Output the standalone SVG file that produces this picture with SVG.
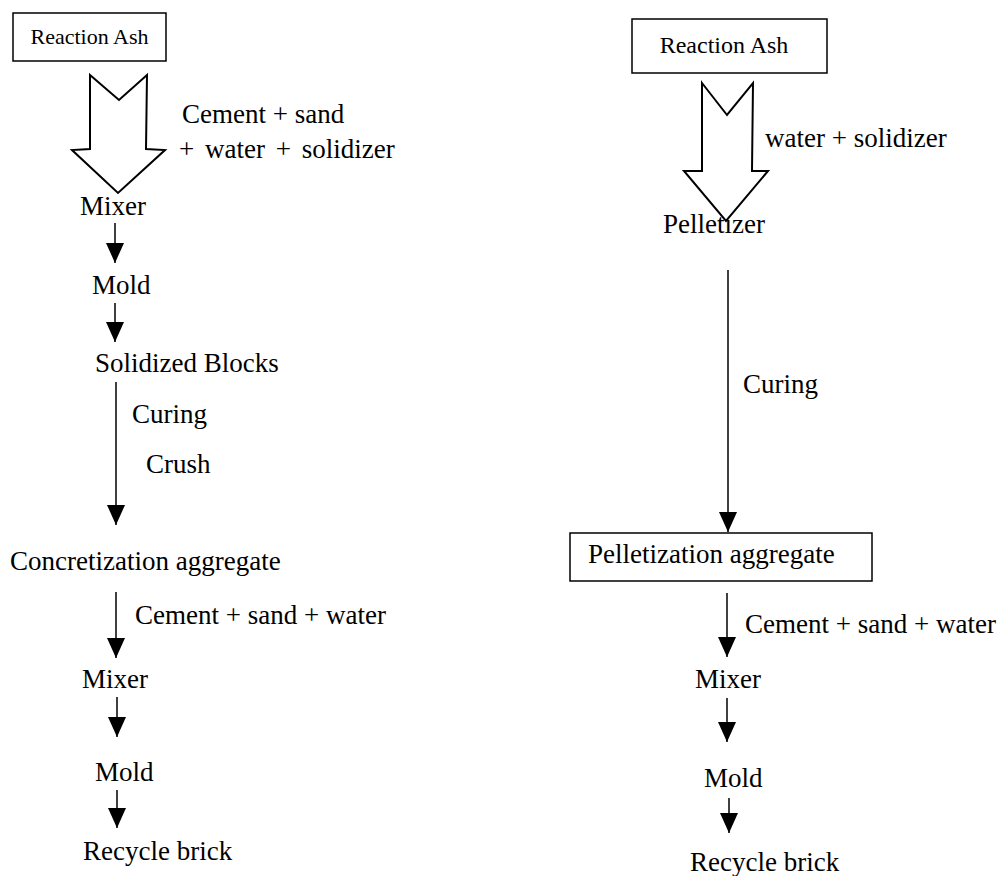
<svg xmlns="http://www.w3.org/2000/svg" width="1000" height="876" viewBox="0 0 1000 876">
<style>
  text { font-family: "Liberation Serif", "Times New Roman", serif; font-size: 27px; fill: #000; }
  .box { fill: #fff; stroke: #000; stroke-width: 1.5; }
  .conn { fill: none; stroke: #000; stroke-width: 1.5; }
  .hollow { fill: #fff; stroke: #000; stroke-width: 2; stroke-linejoin: miter; }
</style>
<defs>
  <marker id="ah" viewBox="0 0 20 18" refX="20" refY="9" markerWidth="20" markerHeight="18" markerUnits="userSpaceOnUse" orient="auto">
    <path d="M0,0 L20,9 L0,18 z" fill="#000"/>
  </marker>
</defs>
<rect width="1000" height="876" fill="#fff"/>

<!-- Left column nodes -->
<g id="l-reaction-ash">
  <rect class="box" x="13" y="13" width="153" height="48"/>
  <text x="89.5" y="44" text-anchor="middle" style="font-size:22px">Reaction Ash</text>
</g>
<g id="l-mixer1"><text x="80" y="215">Mixer</text></g>
<g id="l-mold1"><text x="92" y="294">Mold</text></g>
<g id="l-solidized"><text x="95" y="372">Solidized Blocks</text></g>
<g id="l-concretization"><text x="10" y="570">Concretization aggregate</text></g>
<g id="l-mixer2"><text x="82" y="688">Mixer</text></g>
<g id="l-mold2"><text x="95" y="781">Mold</text></g>
<g id="l-brick"><text x="83" y="860">Recycle brick</text></g>

<!-- Right column nodes -->
<g id="r-reaction-ash">
  <rect class="box" x="632" y="19" width="195" height="54"/>
  <text x="724" y="53" text-anchor="middle" style="font-size:24px">Reaction Ash</text>
</g>
<g id="r-pelletizer"><text x="663" y="233">Pelletizer</text></g>
<g id="r-pelletization">
  <rect class="box" x="570" y="533" width="302" height="48"/>
  <text x="588" y="563">Pelletization aggregate</text>
</g>
<g id="r-mixer"><text x="695" y="688">Mixer</text></g>
<g id="r-mold"><text x="704" y="787">Mold</text></g>
<g id="r-brick"><text x="690" y="871">Recycle brick</text></g>

<!-- Connectors -->
<g id="connectors">
  <polygon class="hollow" points="90,75 119,100 147,75 146,149 165,150 118,193 72,150 90,149"/>
  <polygon class="hollow" points="702,83 727,115 753,83 752,171 768,171 726,221 684,171 702,171"/>
  <line class="conn" x1="115" y1="223" x2="115" y2="263" marker-end="url(#ah)"/>
  <line class="conn" x1="115" y1="303" x2="115" y2="342" marker-end="url(#ah)"/>
  <line class="conn" x1="116" y1="382" x2="116" y2="525" marker-end="url(#ah)"/>
  <line class="conn" x1="116" y1="592" x2="116" y2="658" marker-end="url(#ah)"/>
  <line class="conn" x1="117" y1="697" x2="117" y2="737" marker-end="url(#ah)"/>
  <line class="conn" x1="117" y1="790" x2="117" y2="828" marker-end="url(#ah)"/>

  <line class="conn" x1="728" y1="270" x2="728" y2="532" marker-end="url(#ah)"/>
  <line class="conn" x1="727" y1="593" x2="727" y2="657" marker-end="url(#ah)"/>
  <line class="conn" x1="727" y1="698" x2="727" y2="742" marker-end="url(#ah)"/>
  <line class="conn" x1="729" y1="798" x2="729" y2="833" marker-end="url(#ah)"/>

  <text x="182" y="123">Cement + sand</text>
  <text x="179" y="158" word-spacing="4">+ water + solidizer</text>
  <text x="132" y="423">Curing</text>
  <text x="146" y="473">Crush</text>
  <text x="135" y="624">Cement + sand + water</text>

  <text x="765" y="147">water + solidizer</text>
  <text x="743" y="393">Curing</text>
  <text x="745" y="633">Cement + sand + water</text>
</g>
</svg>
